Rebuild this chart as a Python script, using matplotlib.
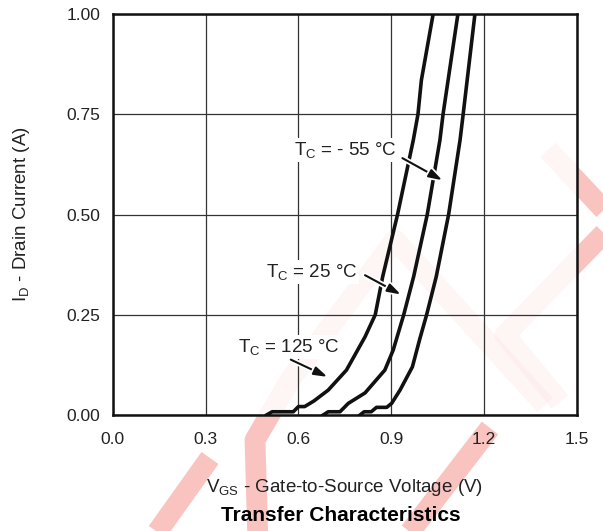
import matplotlib
matplotlib.use("Agg")
from matplotlib import pyplot as plt
import matplotlib.patheffects as pe

plt.rcParams['font.family'] = ['Liberation Sans', 'DejaVu Sans']
plt.rcParams['mathtext.fontset'] = 'custom'
plt.rcParams['mathtext.rm'] = 'Liberation Sans'
plt.rcParams['mathtext.it'] = 'Liberation Sans'

# Tc = 125 C
vgs_125 = [0.497, 0.515, 0.583, 0.600, 0.620, 0.650, 0.696, 0.755, 0.815, 0.848, 0.872, 0.920, 0.971, 0.986, 0.997, 1.035]
id_125 = [0.0, 0.008, 0.008, 0.021, 0.021, 0.035, 0.062, 0.112, 0.195, 0.25, 0.345, 0.5, 0.686, 0.75, 0.835, 1.0]
# Tc = 25 C
vgs_25 = [0.680, 0.696, 0.734, 0.761, 0.815, 0.879, 0.906, 0.940, 0.972, 1.016, 1.057, 1.067, 1.115]
id_25 = [0.0, 0.008, 0.008, 0.029, 0.055, 0.112, 0.162, 0.25, 0.345, 0.5, 0.686, 0.75, 1.0]
# Tc = -55 C
vgs_m55 = [0.799, 0.812, 0.835, 0.852, 0.885, 0.901, 0.928, 0.968, 0.992, 1.014, 1.045, 1.085, 1.122, 1.132, 1.170]
id_m55 = [0.0, 0.008, 0.008, 0.019, 0.019, 0.029, 0.062, 0.12, 0.19, 0.25, 0.345, 0.5, 0.686, 0.75, 1.0]

xticks = [0.0, 0.3, 0.6, 0.9, 1.2, 1.5]
yticks = [0.0, 0.25, 0.5, 0.75, 1.0]

fig = plt.figure(figsize=(6.03, 5.31), dpi=100)
ax = fig.add_axes([0.187, 0.2185, 0.77, 0.755])
ax.set_facecolor((1, 1, 1, 0.85))

# faint red watermark strokes behind the chart (pixel coords)
wm = [
    [(210, 458), (148, 545)],
    [(258, 545), (255, 440), (290, 380), (395, 240), (545, 405)],
    [(615, 222), (505, 335), (560, 402)],
    [(490, 428), (400, 545)],
    [(548, 150), (606, 212)],
]
for pts in wm:
    xs = [p[0] / 603 for p in pts]
    ys = [1 - p[1] / 531 for p in pts]
    fig.lines.append(plt.Line2D(xs, ys, transform=fig.transFigure, color='#ee3b30',
                                alpha=0.3, lw=15, solid_capstyle='butt',
                                solid_joinstyle='round', zorder=-1))

ax.plot(vgs_125, id_125, color='#111111', lw=2.6, zorder=3)
ax.plot(vgs_25, id_25, color='#111111', lw=2.6, zorder=3)
ax.plot(vgs_m55, id_m55, color='#111111', lw=2.6, zorder=3)

ax.set_xlim(0, 1.5)
ax.set_ylim(0, 1.0)
ax.set_xticks(xticks)
ax.set_yticks(yticks)
ax.set_xticklabels(['%.1f' % t for t in xticks])
ax.set_yticklabels(['%.2f' % t for t in yticks])
ax.tick_params(length=0, labelsize=12.5, colors='#222222')
ax.tick_params(axis='x', pad=12)
ax.tick_params(axis='y', pad=9)
ax.grid(True, color='#333333', lw=0.9)
ax.set_axisbelow(True)
for s in ax.spines.values():
    s.set_linewidth(1.8)
    s.set_color('#111111')

ax.set_xlabel(r'V$_{\mathrm{GS}}$ - Gate-to-Source Voltage (V)', fontsize=13.5, color='#222222')
ax.xaxis.set_label_coords(0.5, -0.155)
ax.set_ylabel(r'I$_{\mathrm{D}}$ - Drain Current (A)', fontsize=13.5, color='#222222')
ax.yaxis.set_label_coords(-0.175, 0.5)
fig.text(0.565, 0.030, 'Transfer Characteristics', ha='center', va='center',
         fontsize=15, fontweight='bold')

labels = [
    (r'T$_{\mathrm{C}}$ = - 55 °C', 0.918, 0.661, (0.928, 0.644), (1.073, 0.582)),
    (r'T$_{\mathrm{C}}$ = 25 °C', 0.789, 0.357, (0.807, 0.352), (0.939, 0.297)),
    (r'T$_{\mathrm{C}}$ = 125 °C', 0.734, 0.170, (0.567, 0.141), (0.702, 0.092)),
]
for txt, tx, ty, start, tip in labels:
    ax.text(tx, ty, txt, ha='right', va='center', fontsize=13.5, color='#222222', zorder=4,
            bbox=dict(facecolor='white', edgecolor='none', pad=1.5))
    ax.annotate('', xy=tip, xytext=start, zorder=5,
                arrowprops=dict(arrowstyle='-|>,head_length=0.8,head_width=0.25',
                                color='#111111', lw=1.5,
                                path_effects=[pe.withStroke(linewidth=4, foreground='white')]))

fig.savefig('out.png', dpi=100)
